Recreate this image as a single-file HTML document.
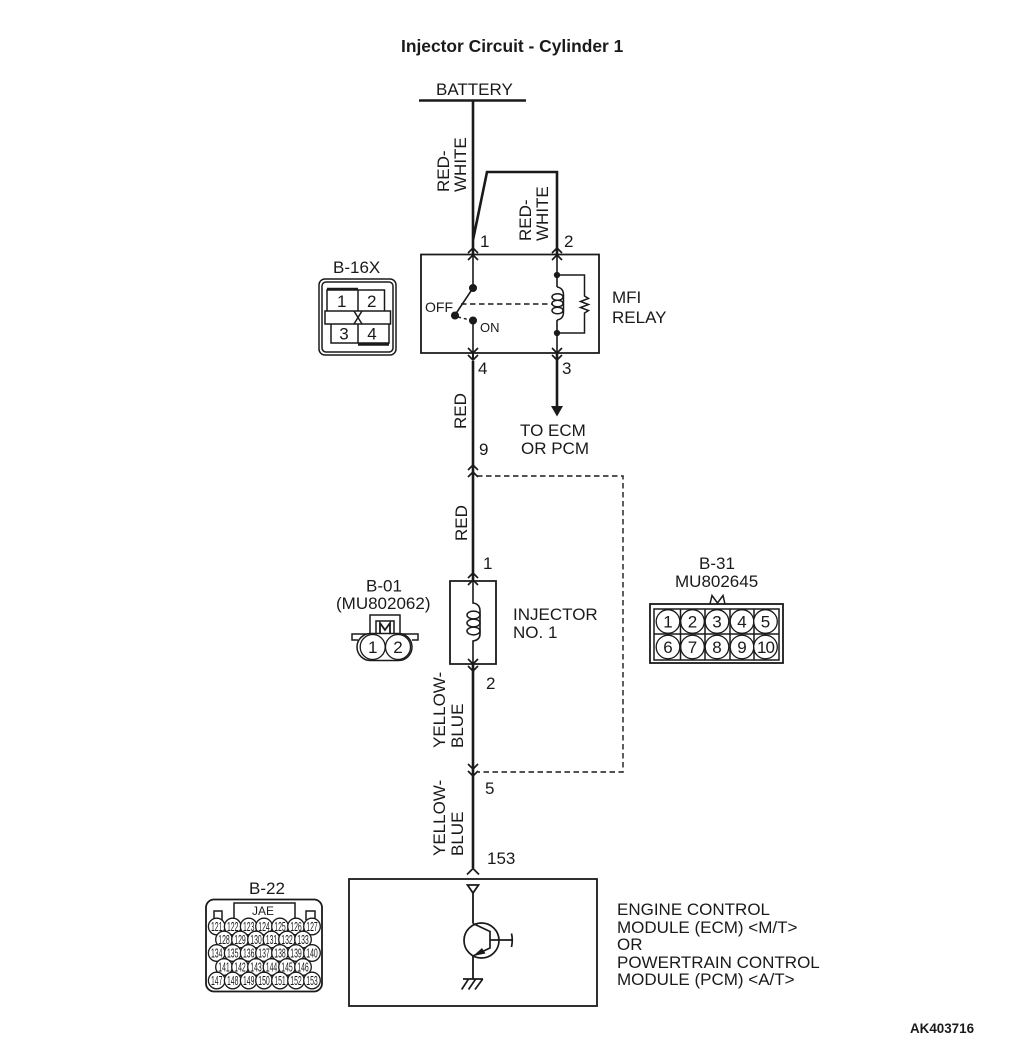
<!DOCTYPE html>
<html><head><meta charset="utf-8"><style>
html,body{margin:0;padding:0;background:#fff}
svg{display:block}
text{font-family:"Liberation Sans",sans-serif;fill:#1a1a1a;font-size:17px}
.s{font-size:14px}
.t{font-size:13px}
.n{font-size:12.500px;text-anchor:middle}
.c{font-size:17px;text-anchor:middle}
.l{fill:none;stroke:#1a1a1a;stroke-width:1.5}
.w{fill:none;stroke:#1a1a1a;stroke-width:2.600}
.d{fill:none;stroke:#1a1a1a;stroke-width:1.400;stroke-dasharray:5.500 3.500}
.f{fill:#1a1a1a;stroke:none}
circle{fill:#fff;stroke:#1a1a1a;stroke-width:1.300}
</style></head><body>
<svg width="1010" height="1044" viewBox="0 0 1010 1044" xmlns="http://www.w3.org/2000/svg">
<text x="401" y="52" style="font-weight:bold;font-size:17.400px">Injector Circuit - Cylinder 1</text>
<text x="436" y="95">BATTERY</text>
<path class="w" d="M419 100.500H526"/>
<path class="w" d="M473 100V254M473 240L487 172H557V254"/>
<path class="l" style="stroke-width:1.800" d="M421 254.500H599V353H421Z"/>
<path class="l" style="stroke-width:1.600" d="M473 254V288L455 315M473 320V353M557 254V287M557 320V353"/>
<path class="l" style="stroke-width:1.700" d="M468 253L473 248L478 253M468 260L473 255L478 260M552 253L557 248L562 253M552 260L557 255L562 260"/>
<path class="l" style="stroke-width:1.700" d="M468 348L473 353L478 348M468 355L473 360L478 355M552 348L557 353L562 348M552 355L557 360L562 355"/>
<path class="w" style="stroke-width:2" d="M473 353V360M557 353V360"/>
<circle cx="473" cy="288" r="3.400" style="fill:#1a1a1a"/>
<circle cx="455" cy="315.500" r="3.400" style="fill:#1a1a1a"/>
<circle cx="473" cy="320.500" r="3.400" style="fill:#1a1a1a"/>
<path class="l" stroke-dasharray="3 3" d="M458 317L470 320"/>
<path class="d" d="M461 304H552"/>
<path class="l" d="M557 287Q563.500 288 563.500 295V312Q563.500 319 557 320"/>
<ellipse class="l" cx="557.500" cy="297" rx="5.500" ry="3.300"/>
<ellipse class="l" cx="557.500" cy="303.500" rx="5.500" ry="3.300"/>
<ellipse class="l" cx="557.500" cy="310.500" rx="5.500" ry="3.300"/>
<circle cx="557" cy="275" r="2.500" style="fill:#1a1a1a"/>
<circle cx="557" cy="333" r="2.500" style="fill:#1a1a1a"/>
<path class="l" d="M557 275H584.500V296L588.500 298.500L580.500 301.500L588.500 304.500L580.500 307.500L588.500 310.500L584.500 313V333H557"/>
<path class="w" d="M557 353V410"/>
<path class="f" d="M551 406H563L557 416.500Z"/>
<text x="480" y="247">1</text><text x="564" y="247">2</text>
<text x="478" y="374">4</text><text x="562" y="374">3</text>
<text class="s" x="425" y="312">OFF</text><text class="t" x="480" y="332">ON</text>
<text x="612" y="303">MFI</text><text x="612" y="323">RELAY</text>
<text x="520" y="436">TO ECM</text><text x="521" y="454">OR PCM</text>
<text transform="translate(449 192) rotate(-90)">RED-</text>
<text transform="translate(466 192) rotate(-90)">WHITE</text>
<text transform="translate(531 241) rotate(-90)">RED-</text>
<text transform="translate(548 241) rotate(-90)">WHITE</text>
<text transform="translate(466 429) rotate(-90)">RED</text>
<text transform="translate(467 541) rotate(-90)">RED</text>
<text transform="translate(445 748) rotate(-90)">YELLOW-</text>
<text transform="translate(463 748) rotate(-90)">BLUE</text>
<text transform="translate(445 856) rotate(-90)">YELLOW-</text>
<text transform="translate(463 856) rotate(-90)">BLUE</text>

<text x="333" y="273">B-16X</text>
<rect class="l" x="319" y="279" width="77" height="76" rx="6"/>
<rect class="l" x="322" y="282" width="71" height="70" rx="4"/>
<path class="l" d="M327 311V290H384.500V311M331 324V343H389V324M358 290V311M358 324V343"/>
<rect class="l" x="325" y="311" width="65.500" height="13"/>
<path class="l" d="M354 311L362 324M362 311L354 324"/>
<path class="w" style="stroke-width:2.400" d="M327 289H358M358 344.500H389"/>
<text class="c" x="341.700" y="307">1</text><text class="c" x="371.700" y="307">2</text>
<text class="c" x="344" y="339.500">3</text><text class="c" x="372" y="339.500">4</text>

<path class="w" d="M473 361V581"/>
<path class="d" d="M477 476H623V772H478"/>
<path class="l" style="stroke-width:1.700" d="M468 470L473 465L478 470M468 477L473 472L478 477"/>
<text x="479" y="455">9</text>
<text x="483" y="569">1</text>
<path class="l" style="stroke-width:1.800" d="M450 581H496V664H450Z"/>
<path class="l" style="stroke-width:1.700" d="M468 578L473 573L478 578M468 585L473 580L478 585M468 659L473 664L478 659M468 666L473 671L478 666"/>
<path class="l" style="stroke-width:1.600" d="M473 581V603Q480 604 480 611V634Q480 640 473 641V664"/>
<ellipse class="l" cx="473.500" cy="615" rx="6.500" ry="3.900"/>
<ellipse class="l" cx="473.500" cy="623" rx="6.500" ry="3.900"/>
<ellipse class="l" cx="473.500" cy="631" rx="6.500" ry="3.900"/>
<path class="w" d="M473 664V868"/>
<text x="513" y="620">INJECTOR</text><text x="513" y="638">NO. 1</text>
<text x="486" y="689">2</text>
<text x="485" y="794">5</text>
<path class="l" style="stroke-width:1.700" d="M468 764L473 769L478 764M468 771L473 776L478 771"/>

<text x="366" y="591.500">B-01</text><text x="336" y="609">(MU802062)</text>
<path class="l" d="M370 634V615H400V634M376 633V621H394V633"/>
<path class="l" style="stroke-width:1.800" d="M380 633V623L385 630L390 623V633"/>
<path class="l" d="M358 640H352V634H418V640H412"/>
<rect x="357" y="633.500" width="55" height="27" rx="13.500" style="fill:#fff;stroke:#1a1a1a;stroke-width:1.500"/>
<circle cx="372.700" cy="647" r="12.500"/><circle cx="398" cy="647" r="12.500"/>
<text class="c" x="372.700" y="653">1</text><text class="c" x="398" y="653">2</text>

<text x="699" y="569">B-31</text><text x="675" y="587">MU802645</text>
<path class="l" d="M710 604L712 595.500L717.500 603L723 595.500L725 604"/>
<rect class="l" style="stroke-width:1.800" x="650" y="604" width="133" height="59"/>
<rect class="l" x="654" y="609" width="125" height="51"/>
<path class="l" d="M680.500 609V660M705 609V660M730 609V660M754 609V660M654 634H779"/>
<circle cx="668" cy="621.500" r="11.800"/><circle cx="692.500" cy="621.500" r="11.800"/><circle cx="717" cy="621.500" r="11.800"/><circle cx="742" cy="621.500" r="11.800"/><circle cx="765.500" cy="621.500" r="11.800"/>
<circle cx="668" cy="647" r="11.800"/><circle cx="692.500" cy="647" r="11.800"/><circle cx="717" cy="647" r="11.800"/><circle cx="742" cy="647" r="11.800"/><circle cx="765.500" cy="647" r="11.800"/>
<text class="c" x="668" y="627.500">1</text><text class="c" x="692.500" y="627.500">2</text><text class="c" x="717" y="627.500">3</text><text class="c" x="742" y="627.500">4</text><text class="c" x="765.500" y="627.500">5</text>
<text class="c" x="668" y="653">6</text><text class="c" x="692.500" y="653">7</text><text class="c" x="717" y="653">8</text><text class="c" x="742" y="653">9</text><text class="c" x="765.500" y="653" style="letter-spacing:-1px">10</text>

<text x="487" y="864">153</text>
<path class="l" style="stroke-width:1.700" d="M467 874.500L473 868.500L479 874.500"/>
<rect class="l" style="stroke-width:1.800" x="349" y="879" width="248" height="127"/>
<path class="l" style="stroke-width:1.800" d="M467.500 885H478.500L473 893ZM473 893V923.500M473 956V979"/>
<circle cx="481.500" cy="940.500" r="17.500" style="stroke-width:1.700;fill:none"/>
<path class="l" style="stroke-width:1.700" d="M473 923.500L490 931.500V948L473 956M490 940H511.500M511.500 933.500Q513 940 511.500 947"/>
<path class="f" d="M473 956L482 948L485.500 953.500Z"/>
<path class="l" style="stroke-width:1.700" d="M463 979H483M468.500 979L461.700 989.500M475.700 979L468.500 989.500M482.700 979L475 989.500"/>
<text x="617" y="915">ENGINE CONTROL</text>
<text x="617" y="933">MODULE (ECM) &lt;M/T&gt;</text>
<text x="617" y="950">OR</text>
<text x="617" y="968">POWERTRAIN CONTROL</text>
<text x="617" y="985">MODULE (PCM) &lt;A/T&gt;</text>

<text x="249" y="894">B-22</text>
<rect class="l" style="stroke-width:1.800" x="206" y="899.500" width="116" height="92" rx="8"/>
<path class="l" d="M234 919V903H295V919M214 920V911H222V920M306 920V911H315V920"/>
<text x="252" y="915" style="font-size:12px">JAE</text>
<g>
<circle cx="216.700" cy="926.500" r="8.300"/><circle cx="232.700" cy="926.500" r="8.300"/><circle cx="248.700" cy="926.500" r="8.300"/><circle cx="264" cy="926.500" r="8.300"/><circle cx="280" cy="926.500" r="8.300"/><circle cx="296" cy="926.500" r="8.300"/><circle cx="312" cy="926.500" r="8.300"/>
<circle cx="224" cy="939.500" r="8.300"/><circle cx="240" cy="939.500" r="8.300"/><circle cx="256" cy="939.500" r="8.300"/><circle cx="271.500" cy="939.500" r="8.300"/><circle cx="287" cy="939.500" r="8.300"/><circle cx="303" cy="939.500" r="8.300"/>
<circle cx="216.700" cy="953" r="8.300"/><circle cx="232.700" cy="953" r="8.300"/><circle cx="248.700" cy="953" r="8.300"/><circle cx="264" cy="953" r="8.300"/><circle cx="280" cy="953" r="8.300"/><circle cx="296" cy="953" r="8.300"/><circle cx="312" cy="953" r="8.300"/>
<circle cx="224" cy="967" r="8.300"/><circle cx="240" cy="967" r="8.300"/><circle cx="256" cy="967" r="8.300"/><circle cx="271.500" cy="967" r="8.300"/><circle cx="287" cy="967" r="8.300"/><circle cx="303" cy="967" r="8.300"/>
<circle cx="216.700" cy="980.500" r="8.300"/><circle cx="232.700" cy="980.500" r="8.300"/><circle cx="248.700" cy="980.500" r="8.300"/><circle cx="264" cy="980.500" r="8.300"/><circle cx="280" cy="980.500" r="8.300"/><circle cx="296" cy="980.500" r="8.300"/><circle cx="312" cy="980.500" r="8.300"/>
</g>
<g>
<text class="n" textLength="11.500" lengthAdjust="spacingAndGlyphs" x="216.700" y="931">121</text><text class="n" textLength="11.500" lengthAdjust="spacingAndGlyphs" x="232.700" y="931">122</text><text class="n" textLength="11.500" lengthAdjust="spacingAndGlyphs" x="248.700" y="931">123</text><text class="n" textLength="11.500" lengthAdjust="spacingAndGlyphs" x="264" y="931">124</text><text class="n" textLength="11.500" lengthAdjust="spacingAndGlyphs" x="280" y="931">125</text><text class="n" textLength="11.500" lengthAdjust="spacingAndGlyphs" x="296" y="931">126</text><text class="n" textLength="11.500" lengthAdjust="spacingAndGlyphs" x="312" y="931">127</text>
<text class="n" textLength="11.500" lengthAdjust="spacingAndGlyphs" x="224" y="944">128</text><text class="n" textLength="11.500" lengthAdjust="spacingAndGlyphs" x="240" y="944">129</text><text class="n" textLength="11.500" lengthAdjust="spacingAndGlyphs" x="256" y="944">130</text><text class="n" textLength="11.500" lengthAdjust="spacingAndGlyphs" x="271.500" y="944">131</text><text class="n" textLength="11.500" lengthAdjust="spacingAndGlyphs" x="287" y="944">132</text><text class="n" textLength="11.500" lengthAdjust="spacingAndGlyphs" x="303" y="944">133</text>
<text class="n" textLength="11.500" lengthAdjust="spacingAndGlyphs" x="216.700" y="957.500">134</text><text class="n" textLength="11.500" lengthAdjust="spacingAndGlyphs" x="232.700" y="957.500">135</text><text class="n" textLength="11.500" lengthAdjust="spacingAndGlyphs" x="248.700" y="957.500">136</text><text class="n" textLength="11.500" lengthAdjust="spacingAndGlyphs" x="264" y="957.500">137</text><text class="n" textLength="11.500" lengthAdjust="spacingAndGlyphs" x="280" y="957.500">138</text><text class="n" textLength="11.500" lengthAdjust="spacingAndGlyphs" x="296" y="957.500">139</text><text class="n" textLength="11.500" lengthAdjust="spacingAndGlyphs" x="312" y="957.500">140</text>
<text class="n" textLength="11.500" lengthAdjust="spacingAndGlyphs" x="224" y="971.500">141</text><text class="n" textLength="11.500" lengthAdjust="spacingAndGlyphs" x="240" y="971.500">142</text><text class="n" textLength="11.500" lengthAdjust="spacingAndGlyphs" x="256" y="971.500">143</text><text class="n" textLength="11.500" lengthAdjust="spacingAndGlyphs" x="271.500" y="971.500">144</text><text class="n" textLength="11.500" lengthAdjust="spacingAndGlyphs" x="287" y="971.500">145</text><text class="n" textLength="11.500" lengthAdjust="spacingAndGlyphs" x="303" y="971.500">146</text>
<text class="n" textLength="11.500" lengthAdjust="spacingAndGlyphs" x="216.700" y="985">147</text><text class="n" textLength="11.500" lengthAdjust="spacingAndGlyphs" x="232.700" y="985">148</text><text class="n" textLength="11.500" lengthAdjust="spacingAndGlyphs" x="248.700" y="985">149</text><text class="n" textLength="11.500" lengthAdjust="spacingAndGlyphs" x="264" y="985">150</text><text class="n" textLength="11.500" lengthAdjust="spacingAndGlyphs" x="280" y="985">151</text><text class="n" textLength="11.500" lengthAdjust="spacingAndGlyphs" x="296" y="985">152</text><text class="n" textLength="11.500" lengthAdjust="spacingAndGlyphs" x="312" y="985">153</text>
</g>
<text x="910" y="1033" style="font-weight:bold;font-size:13.400px">AK403716</text>
</svg>
</body></html>
